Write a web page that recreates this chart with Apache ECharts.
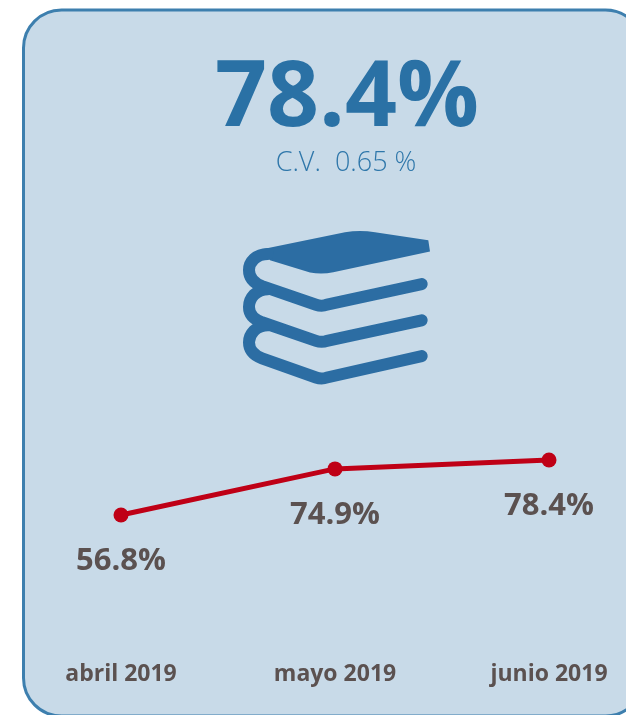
<!DOCTYPE html>
<html>
<head>
<meta charset="utf-8">
<style>html,body{margin:0;padding:0;background:#fff;overflow:hidden}#c{width:626px;height:715px}</style>
<script src="https://cdn.jsdelivr.net/npm/echarts@6/dist/echarts.min.js"></script>
</head>
<body>
<div id="c"></div>
<script>
const categories = ['abril 2019', 'mayo 2019', 'junio 2019'];
const values = [56.8, 74.9, 78.4];
const headline = '78.4%';
const subtitle = 'C.V.  0.65 %';
const font = '"Open Sans", sans-serif';

const bookCover = 'M263.3 249.3 L345 233 Q360 230.5 375 233 L428.3 240.7 L430 251.7 L333.3 271.7 Q322 274 310 272 L270 260 Z';
const bookPages = 'M268 254 C256 254 249 262 249 270 C249 278 254 283 262 286 L316 304.5 Q321.7 306.5 327 304.5 L421.7 284 ' +
  'M268 289 C256 289 249 298 249 306.7 C249 314 254 319 262 322 L316 340.5 Q321.7 342.5 327 340.5 L421.7 320 ' +
  'M268 325 C256 325 249 334 249 342 C249 350 254 355 262 358 L316 377 Q321.7 379 327 377 L421.7 355.7';

const chart = echarts.init(document.getElementById('c'), null, {renderer: 'canvas'});
chart.setOption({
  animation: false,
  backgroundColor: '#fff',
  grid: {left: 121, right: 77, top: 405, height: 254.6, containLabel: false},
  xAxis: {
    type: 'category',
    data: categories,
    boundaryGap: false,
    axisLine: {show: false},
    axisTick: {show: false},
    splitLine: {show: false},
    axisLabel: {
      interval: 0, margin: 3, hideOverlap: false,
      fontFamily: font, fontWeight: 'bold', fontSize: 23, color: '#5b5150'
    }
  },
  yAxis: {type: 'value', min: 0, max: 100, show: false},
  series: [{
    type: 'line',
    data: values,
    z: 5,
    symbol: 'circle',
    symbolSize: 15,
    lineStyle: {color: '#bf0016', width: 5},
    itemStyle: {color: '#bf0016'},
    label: {
      show: true, position: 'bottom', distance: 23,
      formatter: p => p.value.toFixed(1) + '%',
      fontFamily: font, fontWeight: 'bold', fontSize: 31, color: '#5b5150'
    }
  }, {
    type: 'custom',
    coordinateSystem: 'none',
    silent: true,
    z: 1,
    data: [[0]],
    renderItem: () => ({
      type: 'group',
      children: [
        {type: 'path',
         shape: {pathData: bookCover, layout: 'cover', x: 263.3, y: 231, width: 166.7, height: 42.5},
         style: {fill: '#2c6da3'}},
        {type: 'path',
         shape: {pathData: bookPages, layout: 'cover', x: 249, y: 254, width: 172.7, height: 124.5},
         style: {fill: 'none', stroke: '#2c6da3', lineWidth: 12, lineCap: 'round', lineJoin: 'round'}}
      ]
    })
  }],
  graphic: [
    {type: 'rect', z: -10, silent: true,
     shape: {x: 23.5, y: 10, width: 620, height: 706, r: 38},
     style: {fill: '#c8dae8', stroke: '#3d7fae', lineWidth: 3}},
    {type: 'text', z: 1, silent: true, x: 347, y: 100,
     style: {text: headline, font: 'bold 91px ' + font, fill: '#2a71a5', textAlign: 'center', textVerticalAlign: 'middle'}},
    {type: 'text', z: 1, silent: true, x: 346, y: 163.5,
     style: {text: subtitle, font: '300 27px ' + font, fill: '#2f77aa', textAlign: 'center', textVerticalAlign: 'middle'}}
  ]
});
</script>
</body>
</html>
